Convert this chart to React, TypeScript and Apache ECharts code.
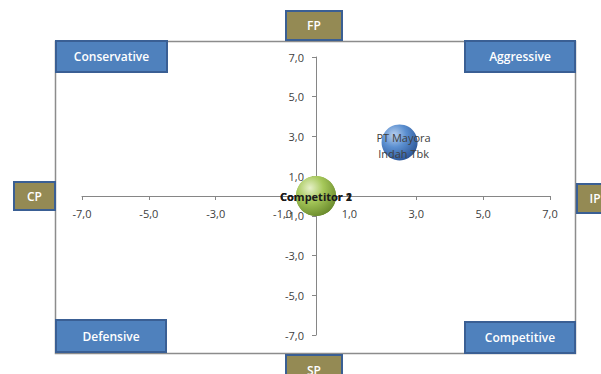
import React, { useEffect, useRef } from "react";
import * as echarts from "echarts";

const axisMin = -7;
const axisMax = 7;
const axisStep = 2;

const companyNames = ["PT Mayora\nIndah Tbk", "Competitor 1", "Competitor 2"];
const ifasScores = [2.5, 0.0, 0.0];
const efasScores = [2.7, 0.0, 0.0];
const bubbleSizes = [36, 40, 40];

const quadrantNames = ["Conservative", "Aggressive", "Defensive", "Competitive"];
const sideNames = ["FP", "SP", "CP", "IP"];

const fmt = (v: number) => v.toFixed(1).replace(".", ",");

export default function App() {
  const ref = useRef<HTMLDivElement>(null);
  useEffect(() => {
    if (!ref.current) return;
    const chart = echarts.init(ref.current, undefined, { renderer: "svg" });
    const font = "'Open Sans', 'Noto Sans', sans-serif";
    const blueGrad = new echarts.graphic.RadialGradient(0.35, 0.3, 0.75, [
      { offset: 0, color: "#B9D0EE" },
      { offset: 0.45, color: "#5B8FD0" },
      { offset: 1, color: "#2B5597" },
    ]);
    const greenGrad = new echarts.graphic.RadialGradient(0.35, 0.3, 0.75, [
      { offset: 0, color: "#E6F0C8" },
      { offset: 0.45, color: "#A6C85A" },
      { offset: 1, color: "#6A8A2C" },
    ]);
    const colors = [blueGrad, greenGrad, greenGrad];
    const boxRect = (x: number, y: number, w: number, h: number, text: string, fill: string) => ({
      type: "group",
      z: 100,
      children: [
        {
          type: "rect",
          shape: { x, y, width: w, height: h },
          style: { fill, stroke: "#3A5F94", lineWidth: 2 },
        },
        {
          type: "text",
          x: x + w / 2,
          y: y + h / 2,
          style: {
            text,
            fill: "#FFFFFF",
            font: `600 12px ${font}`,
            align: "center",
            verticalAlign: "middle",
          },
        },
      ],
    });
    const qBlue = "#4F81BD";
    const olive = "#948A54";
    const gridW = 468;
    const gridH = 278;
    chart.setOption({
      animation: false,
      backgroundColor: "#FFFFFF",
      grid: { left: 82, right: 51, top: 57, bottom: 39 },
      xAxis: {
        type: "value",
        min: axisMin,
        max: axisMax,
        interval: axisStep,
        position: "bottom",
        offset: -gridH / 2,
        axisLine: { onZero: false, lineStyle: { color: "#868686", width: 1 } },
        axisTick: { show: true, length: 4, lineStyle: { color: "#868686" } },
        axisLabel: { color: "#404040", fontSize: 11, fontFamily: font, margin: 12, formatter: fmt },
        splitLine: { show: false },
      },
      yAxis: {
        type: "value",
        min: axisMin,
        max: axisMax,
        interval: axisStep,
        position: "left",
        offset: -gridW / 2,
        axisLine: { onZero: false, lineStyle: { color: "#868686", width: 1 } },
        axisTick: { show: true, length: 4, lineStyle: { color: "#868686" } },
        axisLabel: { color: "#404040", fontSize: 11, fontFamily: font, margin: 12, formatter: fmt },
        splitLine: { show: false },
      },
      series: companyNames.map((name, i) => ({
        type: "scatter",
        name,
        data: [[ifasScores[i], efasScores[i]]],
        symbolSize: bubbleSizes[i],
        z: 3 + i,
        itemStyle: { color: colors[i], opacity: 1 },
        label: {
          show: true,
          position: "inside",
          offset: i === 0 ? [4, 3] : [0, 0],
          formatter: name,
          color: i === 0 ? "#404040" : "#1A1A1A",
          fontSize: 11,
          fontWeight: i === 0 ? "normal" : "bold",
          fontFamily: font,
          lineHeight: 16,
        },
      })),
      graphic: [
        {
          type: "rect",
          z: 0,
          silent: true,
          shape: { x: 55.5, y: 41.5, width: 520, height: 312 },
          style: { fill: "none", stroke: "#8C8C8C", lineWidth: 1.5 },
        },
        boxRect(56, 41, 111, 31, quadrantNames[0], qBlue),
        boxRect(465, 41, 110, 31, quadrantNames[1], qBlue),
        boxRect(56, 320, 110, 32, quadrantNames[2], qBlue),
        boxRect(465, 322, 110, 31, quadrantNames[3], qBlue),
        boxRect(286, 11, 56, 29, sideNames[0], olive),
        boxRect(286, 355, 56, 30, sideNames[1], olive),
        boxRect(14, 182, 41, 28, sideNames[2], olive),
        boxRect(577, 184, 36, 29, sideNames[3], olive),
      ],
    });
    return () => chart.dispose();
  }, []);
  return <div ref={ref} style={{ width: 601, height: 374, position: "absolute", left: 0, top: 0 }} />;
}
